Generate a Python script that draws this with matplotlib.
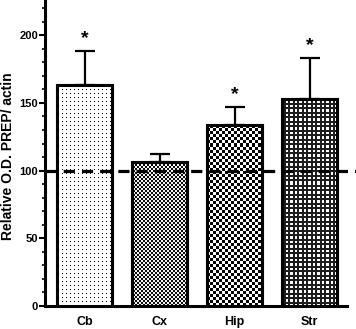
import numpy as np
import matplotlib.pyplot as plt
from matplotlib.ticker import MultipleLocator

regions = ['Cb', 'Cx', 'Hip', 'Str']
means = [163, 106, 134, 153]
errors = [25, 6, 13, 30]
significant = [True, False, True, True]
patterns = ['dots', 'fine_checker', 'checker', 'grid']
control_level = 100

plt.rcParams['font.family'] = ['Liberation Sans', 'DejaVu Sans']
plt.rcParams['font.weight'] = 'bold'


def make_pattern(kind, h, w):
    yy, xx = np.mgrid[0:h, 0:w]
    if kind == 'dots':
        img = ((xx % 4 == 1) & (yy % 4 == 1)) * 1.0
    elif kind == 'fine_checker':
        img = ((xx // 2 + yy // 2) % 2) * 0.85 + 0.1
    elif kind == 'checker':
        img = ((xx // 3 + yy // 3) % 2) * 1.0
    else:
        img = (((xx % 4.5) < 1.6) | ((yy % 4.5) < 1.6)) * 0.9
    return img


fig = plt.figure(figsize=(3.56, 3.29), dpi=100)
ax = fig.add_axes([45 / 356, 23 / 329, 302 / 356, 306 / 329])

x = np.arange(len(regions))
bars = ax.bar(x, means, width=0.73, color='white', edgecolor='black',
              linewidth=2.2, zorder=3)
ax.errorbar(x, means, yerr=[np.zeros(len(means)), errors], fmt='none',
            ecolor='black', elinewidth=1.6, capsize=7, capthick=1.6, zorder=2)

ax.set_xlim(-0.527, 3.5)
ax.set_ylim(0, 226)

# fill patterns, clipped to each bar
h, w = 306, 302
for bar, kind in zip(bars, patterns):
    im = ax.imshow(make_pattern(kind, h, w), cmap='Greys', vmin=0, vmax=1,
                   extent=[*ax.get_xlim(), *ax.get_ylim()], origin='upper',
                   interpolation='nearest', aspect='auto', zorder=3.5)
    im.set_clip_path(bar)
# redraw edges on top of the fill
ax.bar(x, means, width=0.73, color='none', edgecolor='black',
       linewidth=2.2, zorder=4)

for xi, m, e, s in zip(x, means, errors, significant):
    if s:
        ax.text(xi, m + e + 3, '*', ha='center', va='bottom',
                fontsize=14, fontweight='bold')

ax.axhline(control_level, xmin=0, xmax=1.03, color='black', linewidth=2.3,
           dashes=(3.5, 2.2), zorder=5, clip_on=False)

ax.set_xticks(x)
ax.set_xticklabels(regions, fontsize=9, fontweight='bold')
ax.tick_params(axis='x', length=0, pad=7)
ax.yaxis.set_major_locator(MultipleLocator(50))
ax.yaxis.set_minor_locator(MultipleLocator(10))
ax.tick_params(axis='y', which='major', length=4, width=1.5, labelsize=8, pad=1)
ax.tick_params(axis='y', which='minor', length=2.5, width=1.2)
ax.set_ylabel('Relative O.D. PREP/ actin', fontsize=10, fontweight='bold')
ax.yaxis.set_label_coords(-0.098, 0.49)

for side in ['top', 'right']:
    ax.spines[side].set_visible(False)
for side in ['left', 'bottom']:
    ax.spines[side].set_linewidth(2.2)

fig.savefig('out.png', dpi=100)
